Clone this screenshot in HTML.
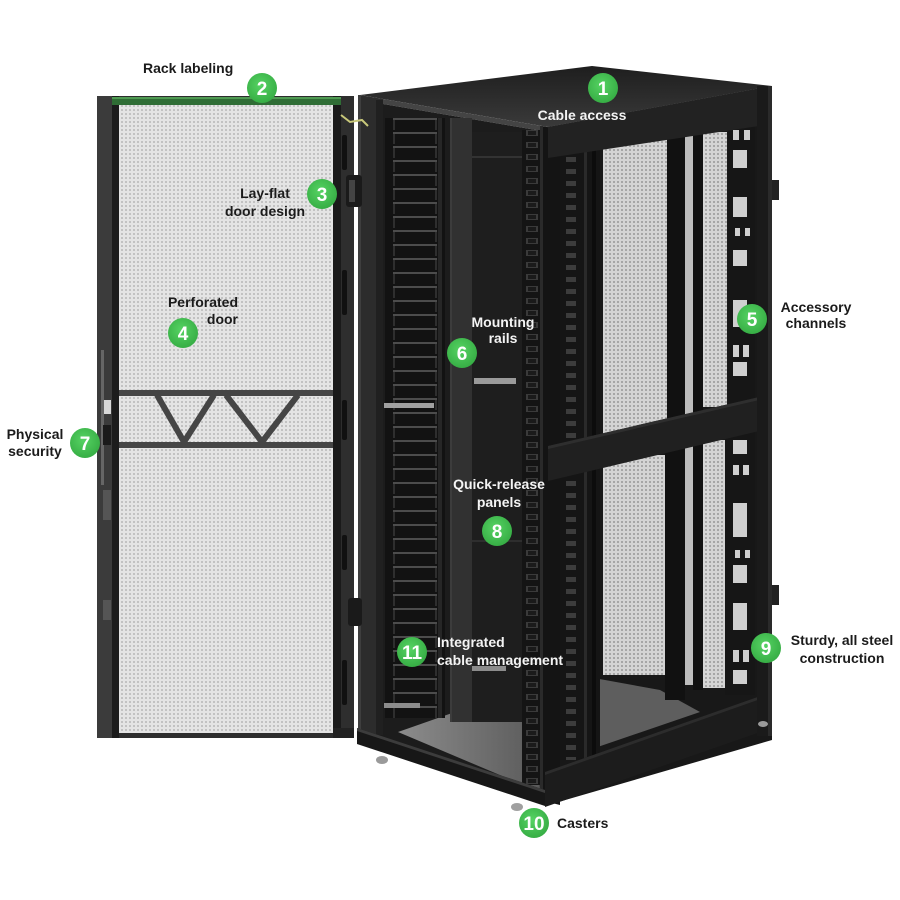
<!DOCTYPE html>
<html><head><meta charset="utf-8"><style>
html,body{margin:0;padding:0;background:#fff;}
svg{display:block}
text{font-family:"Liberation Sans",Arial,sans-serif;font-weight:bold;font-size:14px}
.n{font-size:19px;fill:#fff;text-anchor:middle}
.b{fill:#1b1b1b}
.w{fill:#f4f4f4}
</style></head><body>
<svg width="900" height="900" viewBox="0 0 900 900" xmlns="http://www.w3.org/2000/svg">
<defs>
<pattern id="mesh" width="4" height="4" patternUnits="userSpaceOnUse"><rect width="4" height="4" fill="#e4e4e4"/><rect x="1" y="1" width="2" height="2" fill="#c2c2c2"/></pattern>
<pattern id="mesh2" width="4" height="4" patternUnits="userSpaceOnUse"><rect width="4" height="4" fill="#d4d4d4"/><rect x="1" y="1" width="2" height="2" fill="#a6a6a6"/></pattern>
<pattern id="slots" width="60" height="14" patternUnits="userSpaceOnUse" x="385" y="118"><rect width="60" height="14" fill="#121212"/><rect x="8" y="0" width="44" height="2" fill="#4c4c4c"/><rect x="8" y="2" width="2" height="10" fill="#2e2e2e"/><rect x="50" y="2" width="2" height="10" fill="#2e2e2e"/><rect x="53" y="0" width="4" height="14" fill="#262626"/></pattern>
<pattern id="slots2" width="22" height="12" patternUnits="userSpaceOnUse" x="522" y="128"><rect width="22" height="12" fill="#141414"/><rect x="4" y="2" width="12" height="6" fill="#3a3a3a"/><rect x="6" y="3" width="8" height="4" fill="#1a1a1a"/></pattern>
<pattern id="slots3" width="40" height="12" patternUnits="userSpaceOnUse" x="560" y="130"><rect width="40" height="12" fill="#151515"/><rect x="6" y="3" width="10" height="5" fill="#3c3c3c"/><rect x="24" y="0" width="3" height="12" fill="#2a2a2a"/><rect x="32" y="0" width="4" height="12" fill="#0c0c0c"/></pattern>
<radialGradient id="g" cx="0.45" cy="0.4" r="0.6"><stop offset="0" stop-color="#56d363"/><stop offset="1" stop-color="#37ae45"/></radialGradient>
<linearGradient id="floor" x1="0" y1="0" x2="1" y2="0"><stop offset="0" stop-color="#8c8c8c"/><stop offset="1" stop-color="#5a5a5a"/></linearGradient>
<linearGradient id="top" x1="0" y1="0" x2="0" y2="1"><stop offset="0" stop-color="#1e1e1e"/><stop offset="1" stop-color="#3a3a3a"/></linearGradient>
</defs>

<rect width="900" height="900" fill="#fff"/>

<!-- ===== DOOR ===== -->
<rect x="97" y="96" width="257" height="642" fill="#2d2d2d"/>
<rect x="97" y="96" width="15" height="642" fill="#3b3b3b"/>
<rect x="112" y="96" width="7" height="642" fill="#1c1c1c"/>
<rect x="333" y="96" width="8" height="642" fill="#1a1a1a"/>
<rect x="341" y="96" width="13" height="642" fill="#2e2e2e"/>
<rect x="119" y="104" width="214" height="629" fill="url(#mesh)"/>
<rect x="112" y="97" width="229" height="8" fill="#2f6d35"/>
<rect x="112" y="97" width="229" height="2" fill="#4f9a52"/>
<!-- crossbar -->
<rect x="119" y="390" width="214" height="6" fill="#454545"/>
<rect x="119" y="442" width="214" height="6" fill="#454545"/>
<polyline points="157,395 184,442 214,395" fill="none" stroke="#454545" stroke-width="6" stroke-linejoin="round"/>
<polyline points="226,395 262,442 298,395" fill="none" stroke="#454545" stroke-width="6" stroke-linejoin="round"/>
<!-- left stile lock -->
<rect x="101" y="350" width="3" height="135" fill="#666"/>
<rect x="104" y="400" width="7" height="14" fill="#d8d8d8"/>
<rect x="103" y="425" width="8" height="20" fill="#1a1a1a"/>
<rect x="103" y="490" width="8" height="30" fill="#555"/>
<rect x="103" y="600" width="8" height="20" fill="#555"/>
<!-- right stile slots -->
<rect x="342" y="135" width="5" height="35" rx="2" fill="#111"/>
<rect x="342" y="270" width="5" height="45" rx="2" fill="#111"/>
<rect x="342" y="400" width="5" height="40" rx="2" fill="#111"/>
<rect x="342" y="535" width="5" height="35" rx="2" fill="#111"/>
<rect x="342" y="660" width="5" height="45" rx="2" fill="#111"/>
<rect x="333" y="728" width="21" height="10" fill="#222"/>

<!-- ===== CABINET ===== -->
<!-- top -->
<polygon points="360,95 592,66 772,86 548,127" fill="url(#top)"/>
<polygon points="360,95 548,127 548,132 360,100" fill="#444"/>
<!-- front face background -->
<polygon points="360,100 548,132 548,800 360,740" fill="#1c1c1c"/>
<!-- side face background -->
<polygon points="548,127 772,86 772,740 548,805" fill="#181818"/>

<!-- floor -->
<polygon points="398,732 455,712 535,690 540,792" fill="url(#floor)"/>
<polygon points="583,676 660,690 700,712 583,752" fill="#5e5e5e"/>

<!-- front face internals -->
<rect x="472" y="132" width="52" height="590" fill="#1e1e1e"/>
<rect x="472" y="156" width="50" height="2" fill="#333"/>
<rect x="472" y="540" width="50" height="2" fill="#2e2e2e"/>
<rect x="385" y="118" width="60" height="600" fill="url(#slots)"/>
<rect x="450" y="118" width="22" height="604" fill="#313131"/>
<rect x="450" y="118" width="2" height="604" fill="#3c3c3c"/>
<rect x="474" y="378" width="42" height="6" fill="#9a9a9a"/>
<rect x="384" y="403" width="50" height="5" fill="#a0a0a0"/>
<rect x="472" y="666" width="34" height="5" fill="#8c8c8c"/>
<rect x="384" y="703" width="36" height="5" fill="#8c8c8c"/>
<rect x="522" y="130" width="22" height="655" fill="url(#slots2)"/>
<!-- left post -->
<polygon points="358,95 383,99 383,735 358,735" fill="#2c2c2c"/>
<rect x="376" y="100" width="7" height="635" fill="#202020"/>
<rect x="358" y="95" width="3" height="645" fill="#3e3e3e"/>
<!-- corner post -->
<polygon points="540,126 560,129 560,805 540,800" fill="#141414"/>
<rect x="540" y="126" width="3" height="675" fill="#2a2a2a"/>
<!-- front bottom rail -->
<polygon points="357,728 545,790 545,806 357,744" fill="#171717"/>
<polygon points="357,728 545,790 545,793 357,731" fill="#3c3c3c"/>

<!-- side face internals: upper -->
<rect x="560" y="150" width="40" height="300" fill="url(#slots3)"/>
<rect x="603" y="138" width="64" height="300" fill="url(#mesh2)"/>
<rect x="667" y="135" width="18" height="300" fill="#111"/>
<rect x="685" y="134" width="8" height="280" fill="#bdbdbd"/>
<rect x="693" y="134" width="10" height="280" fill="#101010"/>
<rect x="703" y="132" width="24" height="275" fill="url(#mesh2)"/>
<rect x="728" y="125" width="27" height="285" fill="#161616"/>
<g fill="#cfcfcf">
<rect x="733" y="130" width="6" height="10"/><rect x="744" y="130" width="6" height="10"/>
<rect x="733" y="150" width="14" height="18"/>
<rect x="733" y="197" width="14" height="20"/>
<rect x="735" y="228" width="5" height="8"/><rect x="745" y="228" width="5" height="8"/>
<rect x="733" y="250" width="14" height="16"/>
<rect x="733" y="300" width="14" height="27"/>
<rect x="733" y="345" width="6" height="12"/><rect x="743" y="345" width="6" height="12"/>
<rect x="733" y="362" width="14" height="14"/>
</g>
<!-- side face internals: lower -->
<rect x="560" y="460" width="40" height="300" fill="url(#slots3)"/>
<rect x="603" y="455" width="62" height="220" fill="url(#mesh2)"/>
<rect x="665" y="440" width="20" height="260" fill="#111"/>
<rect x="685" y="440" width="8" height="245" fill="#bdbdbd"/>
<rect x="693" y="440" width="10" height="250" fill="#101010"/>
<rect x="703" y="440" width="22" height="248" fill="url(#mesh2)"/>
<rect x="725" y="430" width="30" height="265" fill="#161616"/>
<g fill="#cfcfcf">
<rect x="733" y="440" width="14" height="14"/>
<rect x="733" y="465" width="6" height="10"/><rect x="743" y="465" width="6" height="10"/>
<rect x="733" y="503" width="14" height="34"/>
<rect x="735" y="550" width="5" height="8"/><rect x="745" y="550" width="5" height="8"/>
<rect x="733" y="565" width="14" height="18"/>
<rect x="733" y="603" width="14" height="27"/>
<rect x="733" y="650" width="6" height="12"/><rect x="743" y="650" width="6" height="12"/>
<rect x="733" y="670" width="14" height="14"/>
</g>
<!-- side rails -->
<polygon points="548,127 772,86 772,124 548,158" fill="#222"/>
<polygon points="548,446 772,394 772,428 548,481" fill="#202020"/>
<polygon points="548,446 772,394 772,397 548,449" fill="#2e2e2e"/>
<polygon points="545,772 772,692 772,728 545,807" fill="#1c1c1c"/>
<polygon points="545,772 772,692 772,695 545,775" fill="#2c2c2c"/>
<!-- back right post -->
<rect x="757" y="86" width="15" height="650" fill="#1a1a1a"/>
<rect x="768" y="86" width="4" height="650" fill="#2a2a2a"/>
<rect x="772" y="180" width="7" height="20" fill="#222"/>
<rect x="772" y="585" width="7" height="20" fill="#222"/>
<!-- hinges / cable near door -->
<rect x="346" y="175" width="16" height="32" rx="3" fill="#1a1a1a"/>
<rect x="349" y="180" width="6" height="22" fill="#444"/>
<rect x="348" y="598" width="14" height="28" rx="3" fill="#1a1a1a"/>
<polyline points="341,115 350,122 362,120 368,126" fill="none" stroke="#c8c87a" stroke-width="2"/>
<!-- casters -->
<ellipse cx="382" cy="760" rx="6" ry="4" fill="#9a9a9a"/>
<ellipse cx="517" cy="807" rx="6" ry="4" fill="#a0a0a0"/>
<ellipse cx="763" cy="724" rx="5" ry="3" fill="#9a9a9a"/>

<!-- ===== LABELS ===== -->
<text class="b" x="143" y="73">Rack labeling</text>
<text class="b" x="265" y="198" text-anchor="middle">Lay-flat</text>
<text class="b" x="265" y="216" text-anchor="middle">door design</text>
<text class="b" x="238" y="307" text-anchor="end">Perforated</text>
<text class="b" x="238" y="324" text-anchor="end">door</text>
<text class="w" x="582" y="120" text-anchor="middle">Cable access</text>
<text class="w" x="503" y="327" text-anchor="middle">Mounting</text>
<text class="w" x="503" y="343" text-anchor="middle">rails</text>
<text class="b" x="816" y="312" text-anchor="middle">Accessory</text>
<text class="b" x="816" y="328" text-anchor="middle">channels</text>
<text class="b" x="35" y="439" text-anchor="middle">Physical</text>
<text class="b" x="35" y="456" text-anchor="middle">security</text>
<text class="w" x="499" y="489" text-anchor="middle">Quick-release</text>
<text class="w" x="499" y="507" text-anchor="middle">panels</text>
<text class="w" x="437" y="647">Integrated</text>
<text class="w" x="437" y="665">cable management</text>
<text class="b" x="842" y="645" text-anchor="middle">Sturdy, all steel</text>
<text class="b" x="842" y="663" text-anchor="middle">construction</text>
<text class="b" x="557" y="828">Casters</text>

<!-- ===== NUMBER BADGES ===== -->
<g>
<circle cx="603" cy="88" r="15" fill="url(#g)"/><text class="n" x="603" y="95">1</text>
<circle cx="262" cy="88" r="15" fill="url(#g)"/><text class="n" x="262" y="95">2</text>
<circle cx="322" cy="194" r="15" fill="url(#g)"/><text class="n" x="322" y="201">3</text>
<circle cx="183" cy="333" r="15" fill="url(#g)"/><text class="n" x="183" y="340">4</text>
<circle cx="752" cy="319" r="15" fill="url(#g)"/><text class="n" x="752" y="326">5</text>
<circle cx="462" cy="353" r="15" fill="url(#g)"/><text class="n" x="462" y="360">6</text>
<circle cx="85" cy="443" r="15" fill="url(#g)"/><text class="n" x="85" y="450">7</text>
<circle cx="497" cy="531" r="15" fill="url(#g)"/><text class="n" x="497" y="538">8</text>
<circle cx="766" cy="648" r="15" fill="url(#g)"/><text class="n" x="766" y="655">9</text>
<circle cx="534" cy="823" r="15" fill="url(#g)"/><text class="n" x="534" y="830">10</text>
<circle cx="412" cy="652" r="15" fill="url(#g)"/><text class="n" x="412" y="659">11</text>
</g>
</svg>
</body></html>
